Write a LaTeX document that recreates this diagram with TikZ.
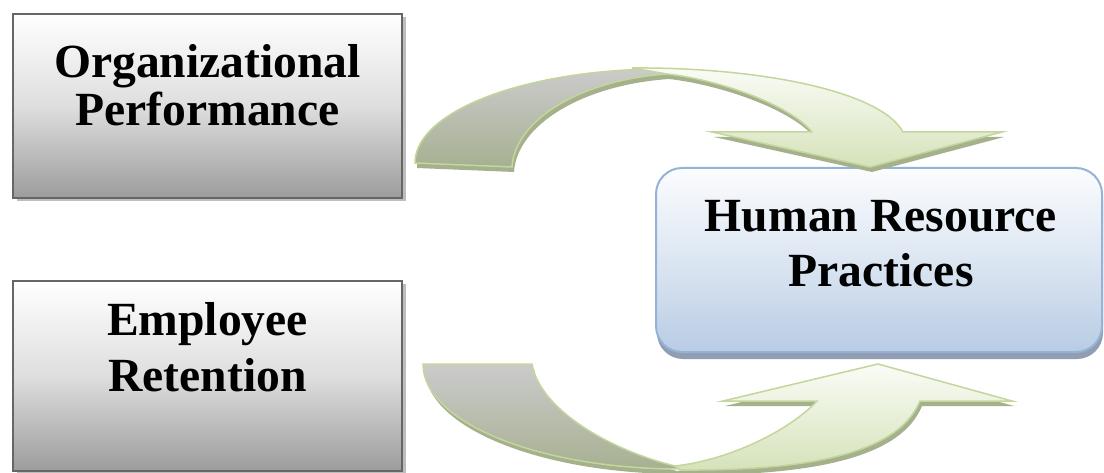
\documentclass[tikz,border=0pt]{standalone}
\usepackage{fontspec}
\setmainfont{Liberation Serif}
\usetikzlibrary{shadows}
\definecolor{boxborder}{HTML}{666666}
\definecolor{boxmid}{HTML}{DEDEDE}
\definecolor{boxbottom}{HTML}{9C9C9C}
\definecolor{boxshadow}{HTML}{BDBDBD}
\definecolor{hrborder}{HTML}{95B3D7}
\definecolor{hrtop}{HTML}{FBFCFE}
\definecolor{hrmid}{HTML}{DCE6F2}
\definecolor{hrbottom}{HTML}{B8CCE4}
\definecolor{hrshadow}{HTML}{909DB2}
\definecolor{arrline}{HTML}{C3D69B}
\definecolor{arrshadow}{HTML}{A5B08D}
\definecolor{graytop}{HTML}{CBCBCB}
\definecolor{graybot}{HTML}{A7B092}
\definecolor{greentop}{HTML}{FAFCF6}
\definecolor{greenbot}{HTML}{D5E2BA}
\begin{document}
\begin{tikzpicture}[x=1pt,y=-1pt,
  lbl/.style={anchor=base, inner sep=0pt, font=\bfseries\fontsize{47.6}{57}\selectfont},
  graybox/.style={draw=boxborder, line width=2.5pt, top color=white, bottom color=boxbottom, middle color=boxmid,
    drop shadow={shadow xshift=4pt, shadow yshift=-3pt, fill=boxshadow, opacity=1}},
  hrbox/.style={draw=hrborder, line width=2pt, rounded corners=26pt, top color=hrtop, bottom color=hrbottom, middle color=hrmid,
    drop shadow={shadow xshift=1pt, shadow yshift=-7pt, fill=hrshadow, opacity=1}},
  arrshad/.style={fill=arrshadow, draw=none},
  graypart/.style={draw=arrline, line width=1.5pt, top color=graytop, bottom color=graybot},
  greenpart/.style={draw=arrline, line width=1.5pt, top color=greentop, bottom color=greenbot}
]
\useasboundingbox (0,0) rectangle (1104,473);
\fill[white] (0,0) rectangle (1104,473);

% boxes
\node[graybox, minimum width=389pt, minimum height=184pt, inner sep=0pt] (opbox) at (207.5,106) {};
\node[graybox, minimum width=389pt, minimum height=190pt, inner sep=0pt] (erbox) at (207.5,376) {};
\node[hrbox, minimum width=446pt, minimum height=184pt, inner sep=0pt] (hrbox) at (879,260) {};

% texts
\node[lbl] (op1) at (207.5,77.5) {Organizational};
\node[lbl] (op2) at (207.5,125.5) {Performance};
\node[lbl] (er1) at (207.5,335) {Employee};
\node[lbl] (er2) at (207.5,391.5) {Retention};
\node[lbl] (hr1) at (881,231.5) {Human Resource};
\node[lbl] (hr2) at (881,287) {Practices};

% top curved arrow (from Organizational Performance to HR practices)
\def\topgray{(415,163) .. controls (415,111) and (526,69) .. (663,69) -- (667,74) .. controls (580,80) and (515,120) .. (512,167) -- cycle}
\def\topgreen{(632,68) .. controls (755,67) and (880,90) .. (903,132) -- (1002,132) -- (870,167) -- (712,132) -- (812,132) .. controls (790,105) and (720,80) .. (667,74) -- cycle}
\begin{scope}[shift={(2,5)}]
  \path[arrshad] \topgray;
  \path[arrshad] \topgreen;
\end{scope}
\path[graypart] \topgray;
\path[greenpart] \topgreen;

% bottom curved arrow (from Employee Retention to HR practices)
\def\botgray{(423,364) -- (532,364) .. controls (540,410) and (610,450) .. (675,466) -- (680,469) .. controls (538,469) and (423,422) .. (423,364) -- cycle}
\def\botgreen{(675,466) .. controls (730,460) and (790,430) .. (817,401) -- (723,401) -- (878,364) -- (1012,401) -- (920,401) .. controls (900,450) and (820,471) .. (680,470) -- cycle}
\begin{scope}[shift={(2,5)}]
  \path[arrshad] \botgray;
  \path[arrshad] \botgreen;
\end{scope}
\path[graypart] \botgray;
\path[greenpart] \botgreen;
\end{tikzpicture}
\end{document}
